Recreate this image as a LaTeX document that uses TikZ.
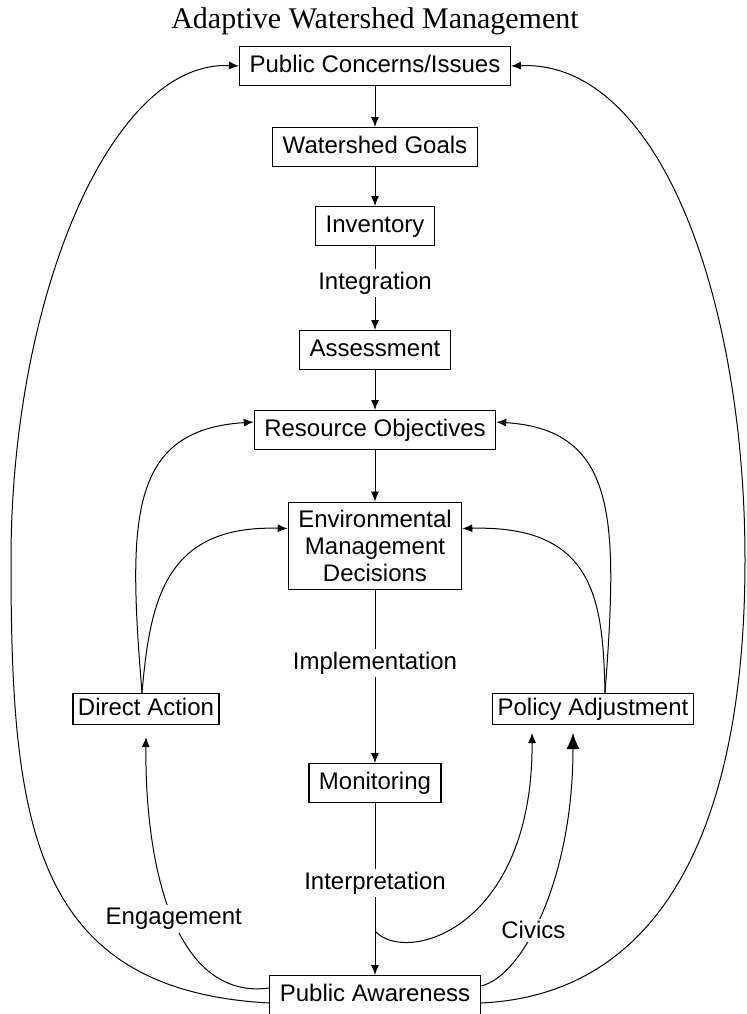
\documentclass[tikz,border=0pt]{standalone}
\usepackage{fontspec}
\setmainfont{Liberation Serif}
\setsansfont{Liberation Sans}
\usetikzlibrary{arrows.meta}

\tikzset{
  stage/.style={draw, line width=0.6pt, font=\sffamily\fontsize{12}{13.5}\selectfont, inner xsep=5pt, inner ysep=4pt},
  oneline/.style={stage, text height=8.8pt, text depth=2.6pt},
  actbox/.style={oneline, inner xsep=2.5pt, inner ysep=2pt},
  flowlbl/.style={fill=white, font=\sffamily\fontsize{12}{13.5}\selectfont, inner sep=1.5pt},
}

\begin{document}
\begin{tikzpicture}[x=0.5pt,y=0.5pt,line width=0.5pt,>={Latex[length=5pt,width=4pt]}]
\useasboundingbox (0,0) rectangle (747,-1014);
\node[font=\fontsize{15}{18}\selectfont] (title) at (375,-21) {Adaptive Watershed Management};
\node[oneline] (pci) at (375,-66) {Public Concerns/Issues};
\node[oneline] (goals) at (375,-147) {Watershed Goals};
\node[oneline] (inv) at (375,-226) {Inventory};
\node[oneline] (assess) at (375,-350) {Assessment};
\node[oneline] (resobj) at (375,-430) {Resource Objectives};
\node[stage, align=center] (emd) at (375,-546) {Environmental\\Management\\Decisions};
\node[actbox] (direct) at (146,-709) {Direct Action};
\node[actbox] (policy) at (593,-709) {Policy Adjustment};
\node[oneline] (monit) at (375,-783) {Monitoring};
\node[oneline] (aware) at (375,-995) {Public Awareness};
\coordinate (split) at (375,-931);
\coordinate (lbend) at (11,-560);
\coordinate (rbend) at (745,-560);

\draw[->] (pci) -- (goals);
\draw[->] (goals) -- (inv);
\draw[->] (inv) -- node[flowlbl,pos=0.44] {Integration} (assess);
\draw[->] (assess) -- (resobj);
\draw[->] (resobj) -- (emd);
\draw[->] (emd) -- node[flowlbl,pos=0.42] {Implementation} (monit);
\draw[->] (monit) -- node[flowlbl,pos=0.465] {Interpretation} (aware);

\draw[->] ([xshift=-2pt]direct.north) .. controls (128,-520) and (128,-430) .. ([yshift=4pt]resobj.west);
\draw[->] ([xshift=-2pt]direct.north) .. controls (150,-600) and (165,-525) .. ([yshift=8.75pt]emd.west);
\draw[->] ([xshift=6pt]policy.north) .. controls (618,-520) and (618,-430) .. ([yshift=4pt]resobj.east);
\draw[->] ([xshift=6pt]policy.north) .. controls (603,-600) and (595,-525) .. ([yshift=8.75pt]emd.east);

\draw[->] ([yshift=-4pt]aware.west) .. controls (30,-990) and (11,-820) .. (lbend)
  .. controls (11,-300) and (110,-60) .. (pci.west);
\draw[->] ([yshift=-4pt]aware.east) .. controls (660,-995) and (745,-830) .. (rbend)
  .. controls (745,-300) and (660,-60) .. (pci.east);

\draw[->,shorten >=6pt] ([yshift=3.5pt]aware.west) .. controls (180,-1000) and (145,-880) .. node[flowlbl] {Engagement} (direct.south);
\draw[-{Latex[length=8pt,width=6.5pt]},shorten >=4pt] ([yshift=4.5pt]aware.east) .. controls (522,-977) and (573,-880) .. node[flowlbl,pos=0.42] {Civics} ([xshift=-10pt]policy.south);
\draw[->,shorten >=4pt] (split) .. controls (405,-965) and (533,-930) .. ([xshift=-30.5pt]policy.south);

\end{tikzpicture}
\end{document}
